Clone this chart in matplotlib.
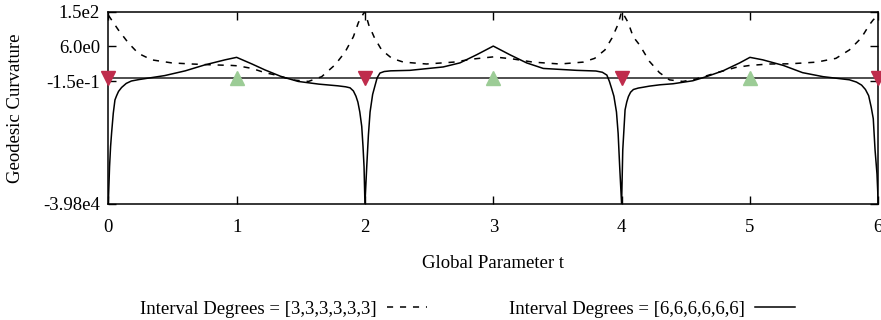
import numpy as np
import matplotlib
matplotlib.use("Agg")
import matplotlib.pyplot as plt
from matplotlib.ticker import NullLocator

# geodesic curvature, degree 3 spline (dashed)
t_deg3 = [0.0, 0.03, 0.078, 0.156, 0.234, 0.338, 0.494, 0.65, 0.806, 0.96,
          1.01, 1.12, 1.22, 1.325, 1.43, 1.56, 1.663, 1.767, 1.845, 1.91,
          1.949, 1.988, 2.0,
          2.03, 2.075, 2.13, 2.21, 2.30, 2.48, 2.69, 2.85, 3.0, 3.15, 3.31,
          3.52, 3.70, 3.79, 3.87, 3.925, 3.97, 4.0,
          4.012, 4.051, 4.09, 4.14, 4.217, 4.295, 4.373, 4.477, 4.58, 4.737,
          4.89, 5.0, 5.15, 5.31, 5.52, 5.67, 5.775, 5.867, 5.93, 5.96, 6.0]
k_deg3 = [110, 65, 28, 8.2, 2.9, 1.44, 1.0, 0.87, 0.78, 0.72,
          0.68, 0.46, 0.20, 0.07, -0.083, -0.15, 0.03, 0.78, 3.3, 14.7,
          55, 125, 150,
          44, 13, 4.1, 1.7, 1.1, 0.87, 1.1, 1.6, 2.0, 1.6, 1.1,
          0.87, 1.1, 1.7, 4.1, 13, 44, 150,
          125, 55, 14.7, 6.7, 1.2, 0.20, -0.083, -0.15, -0.05, 0.19,
          0.54, 0.72, 0.87, 0.89, 1.1, 1.7, 4.1, 13, 44, 70, 110]

# geodesic curvature, degree 6 spline (solid)
t_deg6 = [0.0, 0.01, 0.018, 0.026, 0.039, 0.052, 0.065, 0.08, 0.104, 0.14,
          0.18, 0.24, 0.31, 0.44, 0.6, 0.754, 0.91, 1.0,
          1.12, 1.22, 1.35, 1.48, 1.64, 1.79, 1.85, 1.884, 1.91, 1.93,
          1.945, 1.96, 1.975, 1.985, 1.993, 2.0,
          2.014, 2.027, 2.04, 2.06, 2.078, 2.095, 2.117, 2.15, 2.2, 2.35,
          2.61, 2.74, 2.87, 3.0,
          3.13, 3.26, 3.39, 3.65, 3.8, 3.85, 3.885, 3.905, 3.922, 3.94,
          3.96, 3.973, 3.985, 4.0,
          4.009, 4.027, 4.04, 4.053, 4.07, 4.092, 4.13, 4.17, 4.217, 4.3,
          4.40, 4.555, 4.66, 4.79, 4.92, 5.0,
          5.1, 5.26, 5.41, 5.57, 5.775, 5.83, 5.87, 5.9, 5.925, 5.945,
          5.961, 5.975, 5.99, 6.0]
k_deg6 = [-39800, -1270, -200, -56, -9, -2.4, -1.5, -0.9, -0.52, -0.25,
          -0.13, -0.07, -0.02, 0.07, 0.30, 0.78, 1.44, 1.9,
          0.87, 0.36, 0.03, -0.15, -0.29, -0.40, -0.47, -0.55, -0.85, -1.6,
          -3.0, -8.0, -31, -200, -1270, -39800,
          -1270, -69, -8.0, -1.3, -0.4, -0.01, 0.18, 0.26, 0.30, 0.33,
          0.58, 1.0, 2.5, 6.0,
          2.5, 1.0, 0.46, 0.33, 0.29, 0.22, 0.09, -0.15, -0.6, -1.6,
          -8.0, -60, -1270, -39800,
          -276, -6.5, -3.0, -1.67, -1.0, -0.7, -0.57, -0.5, -0.42, -0.33,
          -0.27, -0.12, 0.03, 0.30, 1.0, 1.9,
          1.44, 0.72, 0.2, 0.03, -0.08, -0.18, -0.35, -0.7, -1.5, -5.0,
          -15, -276, -2500, -39800]

t_min_knots = [0, 2, 4, 6]
t_max_knots = [1, 3, 5]

y_ticks = [150, 6.0, -0.15, -39800]
y_ticklabels = ["1.5e2", "6.0e0", "-1.5e-1", "-3.98e4"]
x_ticks = [0, 1, 2, 3, 4, 5, 6]

labels = ["Interval Degrees = [3,3,3,3,3,3]", "Interval Degrees = [6,6,6,6,6,6]"]

C = 0.35  # width of the near-linear part of the y scale


def forward(y):
    y = np.asarray(y, dtype=float)
    return np.sign(y) * np.log1p(np.abs(y) / C)


def inverse(g):
    g = np.asarray(g, dtype=float)
    return np.sign(g) * C * np.expm1(np.abs(g))


def plot_curvature(output_plot):
    plt.rcParams["font.family"] = ["Liberation Serif", "DejaVu Serif"]
    plt.rcParams["font.size"] = 13.5

    fig = plt.figure(figsize=(8.81, 3.2), dpi=100)
    ax = fig.add_axes([0.1229, 0.3625, 0.8740, 0.6009])
    ax.set_yscale("function", functions=(forward, inverse))

    ax.axhline(0, color="#404040", lw=1.3, zorder=1)
    l3, = ax.plot(t_deg3, k_deg3, color="black", lw=1.1,
                  linestyle=(0, (4, 4.5)), label=labels[0], zorder=2)
    l6, = ax.plot(t_deg6, k_deg6, color="black", lw=1.1,
                  label=labels[1], zorder=2)

    ax.plot(t_min_knots, [0] * len(t_min_knots), linestyle="none", marker="v",
            markersize=10, color="#bf2c4c", clip_on=False, zorder=3)
    ax.plot(t_max_knots, [0] * len(t_max_knots), linestyle="none", marker="^",
            markersize=10, color="#9ccc96", clip_on=False, zorder=3)

    ax.set_xlim(0, 6)
    ax.set_ylim(-39800, 150)
    ax.set_xticks(x_ticks)
    ax.set_xticklabels([str(x) for x in x_ticks])
    ax.set_yticks(y_ticks)
    ax.set_yticklabels(y_ticklabels)
    ax.yaxis.set_minor_locator(NullLocator())
    ax.xaxis.set_minor_locator(NullLocator())

    ax.tick_params(direction="in", top=True, right=True, length=5.5,
                   width=1.0, color="black")
    ax.tick_params(axis="x", pad=10.5)
    ax.tick_params(axis="y", pad=6)
    for spine in ax.spines.values():
        spine.set_linewidth(1.1)

    ax.set_xlabel("Global Parameter t")
    ax.set_ylabel("Geodesic Curvature")
    ax.xaxis.set_label_coords(0.5, -0.265)
    ax.yaxis.set_label_coords(-0.110, 0.5)

    fig.legend(handles=[l3, l6], loc="center", bbox_to_anchor=(0.5307, 1 - 309 / 320),
               ncol=2, frameon=False, markerfirst=False, handlelength=2.13,
               handletextpad=0.53, columnspacing=4.4)

    fig.savefig(output_plot, dpi=100)
    print(f"Plot saved: {output_plot}")


if __name__ == "__main__":
    plot_curvature("out.png")
